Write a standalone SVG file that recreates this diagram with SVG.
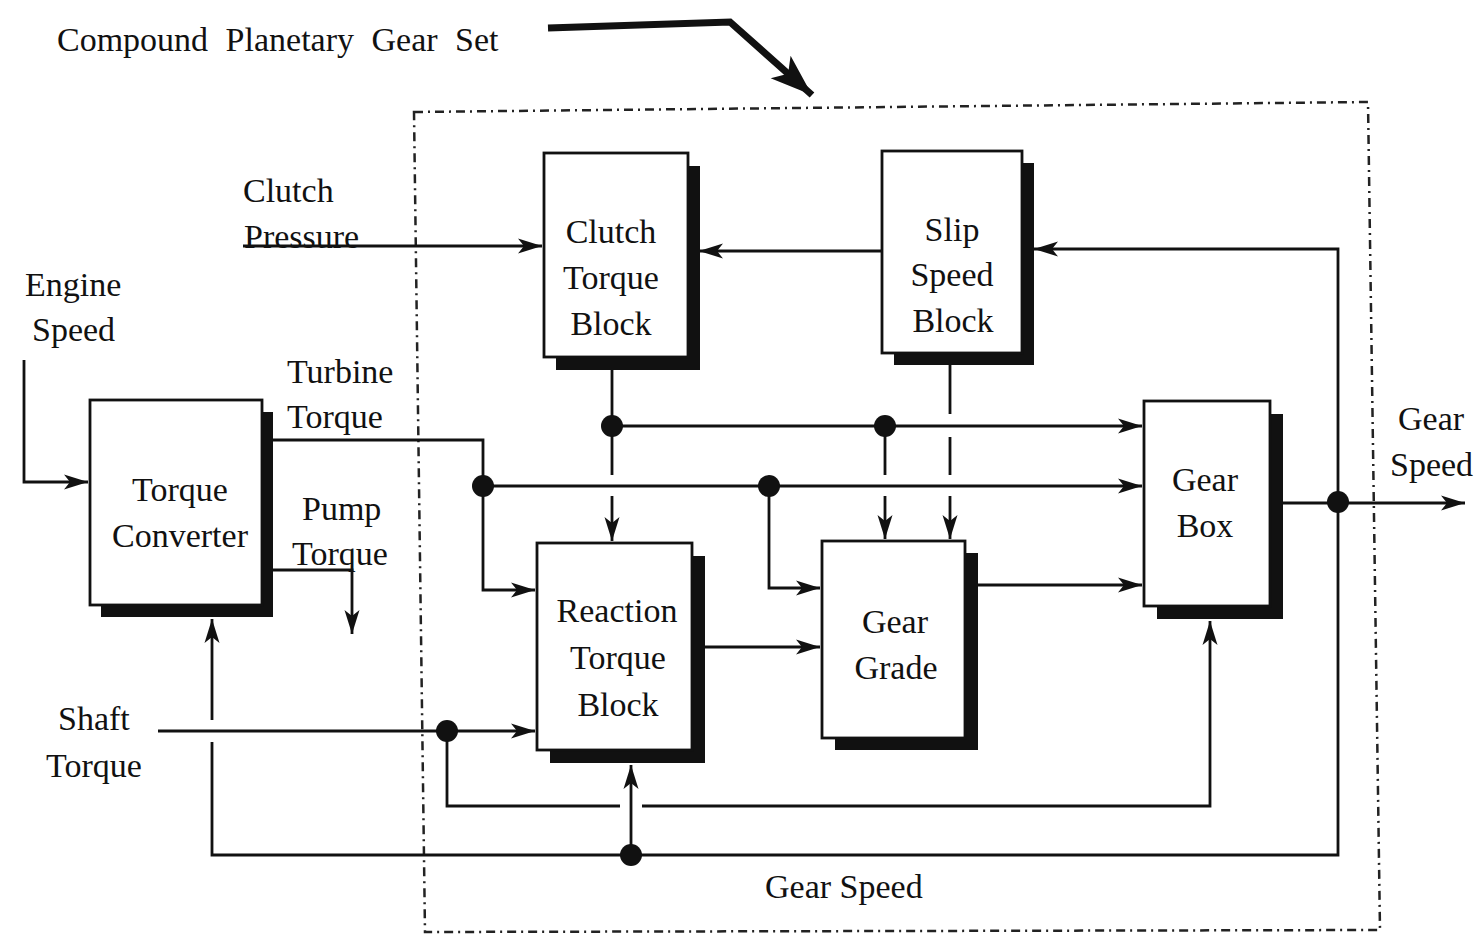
<svg xmlns="http://www.w3.org/2000/svg" width="1476" height="937" viewBox="0 0 1476 937">
<defs>
<style>
text{font-family:"Liberation Serif","Times New Roman",serif;font-size:34px;fill:#111}
.c{text-anchor:middle}
.ln{fill:none;stroke:#111;stroke-width:2.8}
.box{fill:#fff;stroke:#111;stroke-width:2.8}
.sh{fill:#111}
.dot{fill:#111}
.frame{fill:none;stroke:#222;stroke-width:2.5;stroke-dasharray:9 5 2 5}
</style>
<marker id="ar" markerUnits="userSpaceOnUse" markerWidth="26" markerHeight="18" refX="24" refY="9" orient="auto">
<path d="M0,1.5 L24,9 L0,16.5 L6,9 z" fill="#111"/>
</marker>
<marker id="big" markerUnits="userSpaceOnUse" markerWidth="46" markerHeight="36" refX="42" refY="18" orient="auto">
<path d="M0,3 L42,18 L0,33 L10,18 z" fill="#111"/>
</marker>
</defs>
<rect width="1476" height="937" fill="#fff"/>

<g id="title">
<text x="57" y="51" style="font-size:34px;word-spacing:9px">Compound Planetary Gear Set</text>
<path d="M548,28 L730,22 L812,95" fill="none" stroke="#111" stroke-width="7" marker-end="url(#big)"/>
</g>

<g id="frame">
<path class="frame" d="M414,112 L1368,102 L1380,930 L425,932 Z"/>
</g>

<g id="connectors">
<path class="ln" d="M24,360 V482 H88" marker-end="url(#ar)"/>
<path class="ln" d="M243,246 H542" marker-end="url(#ar)"/>
<path class="ln" d="M882,251 H699" marker-end="url(#ar)"/>
<path class="ln" d="M1338,502 V249 H1034" marker-end="url(#ar)"/>
<path class="ln" d="M612,369 V475"/>
<path class="ln" d="M612,496 V541" marker-end="url(#ar)"/>
<path class="ln" d="M612,426 H1142" marker-end="url(#ar)"/>
<path class="ln" d="M885,426 V475"/>
<path class="ln" d="M885,496 V539" marker-end="url(#ar)"/>
<path class="ln" d="M950,365 V414"/>
<path class="ln" d="M950,437 V475"/>
<path class="ln" d="M950,496 V539" marker-end="url(#ar)"/>
<path class="ln" d="M273,440 H483 V590 H535" marker-end="url(#ar)"/>
<path class="ln" d="M483,486 H1142" marker-end="url(#ar)"/>
<path class="ln" d="M769,486 V588 H820" marker-end="url(#ar)"/>
<path class="ln" d="M273,570 H352 V634" marker-end="url(#ar)"/>
<path class="ln" d="M705,647 H820" marker-end="url(#ar)"/>
<path class="ln" d="M978,585 H1142" marker-end="url(#ar)"/>
<path class="ln" d="M1283,503 H1465" marker-end="url(#ar)"/>
<path class="ln" d="M1338,502 V855 H212 V742"/>
<path class="ln" d="M212,720 V619" marker-end="url(#ar)"/>
<path class="ln" d="M631,855 V765" marker-end="url(#ar)"/>
<path class="ln" d="M158,731 H535" marker-end="url(#ar)"/>
<path class="ln" d="M447,731 V806 H620"/>
<path class="ln" d="M642,806 H1210 V621" marker-end="url(#ar)"/>
<circle class="dot" cx="612" cy="426" r="11"/>
<circle class="dot" cx="885" cy="426" r="11"/>
<circle class="dot" cx="483" cy="486" r="11"/>
<circle class="dot" cx="769" cy="486" r="11"/>
<circle class="dot" cx="1338" cy="502" r="11"/>
<circle class="dot" cx="447" cy="731" r="11"/>
<circle class="dot" cx="631" cy="855" r="11"/>
</g>

<g id="labels">
<text x="243" y="202">Clutch</text>
<text x="244" y="248">Pressure</text>
<text x="25" y="296">Engine</text>
<text x="32" y="341">Speed</text>
<text x="287" y="383">Turbine</text>
<text x="287" y="428">Torque</text>
<text x="302" y="520">Pump</text>
<text x="292" y="565">Torque</text>
<text x="58" y="730">Shaft</text>
<text x="46" y="777">Torque</text>
<text x="1398" y="430">Gear</text>
<text x="1390" y="476">Speed</text>
<text x="765" y="898">Gear Speed</text>
</g>

<g id="torque-converter">
<rect class="sh" x="101" y="412" width="172" height="205"/>
<rect class="box" x="90" y="400" width="172" height="205"/>
<text class="c" x="180" y="501">Torque</text>
<text class="c" x="180" y="547">Converter</text>
</g>

<g id="clutch-torque-block">
<rect class="sh" x="556" y="166" width="144" height="204"/>
<rect class="box" x="544" y="153" width="144" height="204"/>
<text class="c" x="611" y="243">Clutch</text>
<text class="c" x="611" y="289">Torque</text>
<text class="c" x="611" y="335">Block</text>
</g>

<g id="slip-speed-block">
<rect class="sh" x="894" y="163" width="140" height="202"/>
<rect class="box" x="882" y="151" width="140" height="202"/>
<text class="c" x="952" y="241">Slip</text>
<text class="c" x="952" y="286">Speed</text>
<text class="c" x="953" y="332">Block</text>
</g>

<g id="reaction-torque-block">
<rect class="sh" x="550" y="556" width="155" height="207"/>
<rect class="box" x="537" y="543" width="155" height="207"/>
<text class="c" x="617" y="622">Reaction</text>
<text class="c" x="618" y="669">Torque</text>
<text class="c" x="618" y="716">Block</text>
</g>

<g id="gear-grade">
<rect class="sh" x="835" y="553" width="143" height="197"/>
<rect class="box" x="822" y="541" width="143" height="197"/>
<text class="c" x="895" y="633">Gear</text>
<text class="c" x="896" y="679">Grade</text>
</g>

<g id="gear-box">
<rect class="sh" x="1157" y="414" width="126" height="205"/>
<rect class="box" x="1144" y="401" width="126" height="205"/>
<text class="c" x="1205" y="491">Gear</text>
<text class="c" x="1205" y="537">Box</text>
</g>
</svg>
